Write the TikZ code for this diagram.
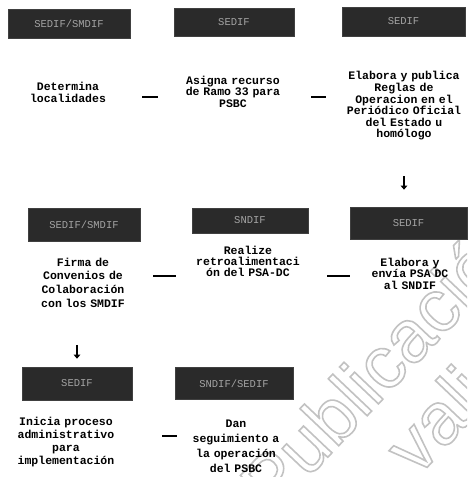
\documentclass[tikz,border=0pt]{standalone}
\usepackage{fontspec}
\setmainfont{Liberation Serif}
\newfontfamily\monofam{Liberation Mono}
\newfontfamily\wmfont{Liberation Sans}
\usetikzlibrary{arrows.meta}
\definecolor{hdr}{HTML}{2A2A2A}
\definecolor{hdrtext}{HTML}{A4A4A4}
\definecolor{wm}{HTML}{C2C2C2}
\tikzset{
  hdrbox/.style={fill=hdr, draw=black!75, line width=0.6pt, text=hdrtext,
    font=\monofam\fontsize{10.5}{12}\selectfont, inner sep=0pt},
  body/.style={align=center, inner sep=0pt,
    font=\monofam\bfseries\fontsize{11.5}{#1}\selectfont},
  body/.default=11.5,
  link/.style={line width=2pt, black},
  down/.style={line width=2.4pt, -{Triangle[width=6.5pt,length=4pt]}},
  wmtext/.style={text=wm, font=\wmfont\fontsize{74}{74}\selectfont,
    rotate=46.5, anchor=base west, inner sep=0pt}
}
\begin{document}
\begin{tikzpicture}[x=1pt,y=1pt]
\useasboundingbox (0,0) rectangle (467,477);
\fill[white] (0,0) rectangle (467,477);
% watermark
\begin{scope}
\clip (0,0) rectangle (467,477);
\node[wmtext] (wm1) at (273,-38) {\special{pdf:literal direct 1 Tr 1.6 w}Publicación};
\node[wmtext] (wm2) at (417,-1) {\special{pdf:literal direct 1 Tr 1.6 w}valida};
\end{scope}
% headers
\node[hdrbox, minimum width=122pt, minimum height=29pt] (h11) at (69,453.5) {SEDIF/SMDIF};
\node[hdrbox, minimum width=120pt, minimum height=28pt] (h12) at (234,455) {SEDIF};
\node[hdrbox, minimum width=123pt, minimum height=29pt] (h13) at (403.5,455.5) {SEDIF};
\node[hdrbox, minimum width=112pt, minimum height=33pt] (h21) at (84,252.5) {SEDIF/SMDIF};
\node[hdrbox, minimum width=116pt, minimum height=25pt] (h22) at (250,256.5) {SNDIF};
\node[hdrbox, minimum width=117pt, minimum height=32pt] (h23) at (408.5,254) {SEDIF};
\node[hdrbox, minimum width=110pt, minimum height=33pt] (h31) at (77,93.5) {SEDIF};
\node[hdrbox, minimum width=118pt, minimum height=32pt] (h32) at (234,93.5) {SNDIF/SEDIF};
% texts
\node[body, text width=110pt] (t11) at (68,384.5) {Determina\\localidades};
\node[body, text width=116pt] (t12) at (233,385.5) {Asigna recurso\\de Ramo 33 para\\PSBC};
\node[body=11.6, text width=124pt] (t13) at (404,371) {Elabora y publica\\Reglas de\\Operacion en el\\Periódico Oficial\\del Estado u\\homólogo};
\node[body=13.7, text width=114pt] (t21) at (83,194.5) {Firma de\\Convenios de\\Colaboración\\con los SMDIF};
\node[body=11, text width=116pt] (t22) at (248,216) {Realize\\retroalimentaci\\ón del PSA-DC};
\node[body, text width=110pt] (t23) at (410,203.5) {Elabora y\\envía PSA DC\\al SNDIF};
\node[body=13, text width=110pt] (t31) at (66,34.5) {Inicia proceso\\administrativo\\para\\implementación};
\node[body=15, text width=110pt] (t32) at (236,30.5) {Dan\\seguimiento a\\la operación\\del PSBC};
% connectors
\draw[link, shorten <=19pt, shorten >=17pt] ([yshift=-4.5pt]t11.east) -- ([yshift=-4.5pt]t11.east -| t12.west);
\draw[link, shorten <=20pt, shorten >=16pt] ([yshift=-5.5pt]t12.east) -- ([yshift=-5.5pt]t12.east -| t13.west);
\draw[link, shorten <=13pt, shorten >=14pt] ([yshift=6.5pt]t21.east) -- ([yshift=6.5pt]t21.east -| t22.west);
\draw[link, shorten <=21pt, shorten >=5pt] ([yshift=-15pt]t22.east) -- ([yshift=-15pt]t22.east -| t23.west);
\draw[link, shorten <=41pt, shorten >=4pt] ([yshift=6.5pt]t31.east) -- ([yshift=6.5pt]t31.east -| t32.west);
\draw[down, shorten <=35.5pt, shorten >=17pt] (t13.south) -- (t13.south |- h23.north);
\draw[down, shorten <=37.5pt, shorten >=8pt] (h31.north |- t21.south) -- (h31.north);
\end{tikzpicture}
\end{document}
